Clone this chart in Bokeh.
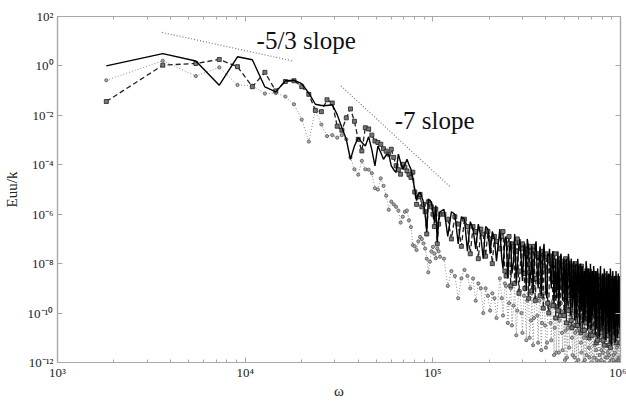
from bokeh.plotting import figure
from bokeh.models import LogAxis, FixedTicker, CustomJSTickFormatter, Label, Range1d
from bokeh.embed import file_html
from bokeh.resources import INLINE

# ---------------- data ----------------
fundamental = 1820.0  # spacing of the spectral lines (omega of harmonic 1)

harmonic_low = [1, 2, 3, 4, 5, 6, 7, 8, 9, 10, 11, 12, 13, 14, 15, 16, 17, 18, 19, 20,
                21, 22, 23, 24, 25, 26, 27, 28, 29, 30, 31, 32, 33, 34, 35, 36, 37, 38, 39, 40,
                41, 42, 43, 44, 45, 46, 47, 48, 49, 50, 51, 52, 53, 54, 55, 56, 57, 58, 59, 60]
harmonic_mid = [63, 66, 69, 72, 75, 78, 81, 84, 87, 90, 93, 96, 99, 102, 105, 108, 111, 114, 117, 120]
harmonic_high = [125, 130, 135, 140, 145, 150, 155, 160, 165, 170, 175, 180, 185, 190, 195, 200,
                 205, 210, 215, 220, 225, 230, 235, 240, 245, 250, 255, 260, 265, 270, 275, 280,
                 285, 290, 295, 300, 305, 310, 315, 320, 325, 330, 335, 340, 345, 350, 355, 360,
                 365, 370, 375, 380, 385, 390, 395, 400, 405, 410, 415, 420, 425, 430, 435, 440,
                 445, 450, 455, 460, 465, 470, 475, 480, 485, 490, 495, 500, 505, 510, 515, 520,
                 525, 530, 535, 540, 545, 550]
harmonic_high2 = [128, 133, 138, 143, 148, 153, 158, 163, 168, 173, 178, 183, 188, 193, 198, 203,
                  208, 213, 218, 223, 228, 233, 238, 243, 248, 253, 258, 263, 268, 273, 278, 283,
                  288, 293, 298, 303, 308, 313, 318, 323, 328, 333, 338, 343, 348, 353, 358, 363,
                  368, 373, 378, 383, 388, 393, 398, 403, 408, 413, 418, 423, 428, 433, 438, 443,
                  448, 453, 458, 463, 468, 473, 478, 483, 488, 493, 498, 503, 508, 513, 518, 523,
                  528, 533, 538, 543, 548]

# log10(Euu/k) of the solid series
solid_low = [0.0, 0.5, 0.2, -0.78, 0.37, 0.25, -0.85, -1.05, -0.6, -0.58,
             -0.72, -1.1, -1.55, -1.6, -1.6, -1.57, -1.97, -2.5, -2.97, -3.78,
             -3.24, -2.9, -3.1, -3.24, -2.87, -3.4, -4.04, -3.24, -3.5, -3.78,
             -3.6, -3.57, -4.04, -4.2, -4.31, -3.57, -3.9, -4.18, -4.0, -3.78,
             -4.0, -4.18, -4.6, -4.98, -5.45, -5.2, -5.11, -5.3, -5.51, -6.0,
             -6.72, -5.38, -5.45, -5.51, -5.9, -6.3, -5.65, -7.12, -6.2, -5.9]
solid_mid = [-5.8, -6.9, -5.9, -6.0, -7.2, -6.1, -6.2, -7.5, -6.3, -6.6,
             -7.4, -6.4, -6.9, -7.8, -6.5, -6.6, -7.6, -6.7, -7.0, -7.9]
solid_high = [-6.6, -8.2, -6.9, -7.6, -8.4, -6.8, -8.1, -7.0, -8.7, -7.2, -7.0, -8.9, -7.3, -8.2, -7.1, -9.0,
              -7.3, -8.5, -7.2, -9.2, -7.6, -7.4, -9.0, -7.5, -8.6, -9.4, -7.5, -8.8, -7.6, -9.5, -7.8, -8.4,
              -9.7, -7.6, -9.0, -7.8, -9.8, -7.9, -8.6, -10.2, -7.8, -9.4, -8.0, -9.9, -8.1, -8.8, -10.3, -7.9,
              -9.6, -8.2, -10.4, -8.0, -9.2, -10.1, -8.1, -9.8, -8.3, -10.6, -8.2, -9.4, -10.8, -8.1, -9.9, -8.4,
              -10.5, -8.2, -9.6, -11.0, -8.3, -10.2, -8.4, -10.9, -8.2, -9.7, -10.6, -8.3, -10.3, -8.5, -11.2, -8.3,
              -9.9, -10.8, -8.4, -10.4, -8.5, -10.9]
solid_high2 = [-7.8, -7.0, -8.6, -7.1, -7.9, -8.8, -7.2, -8.0, -7.3, -9.1,
               -7.4, -8.3, -9.2, -7.3, -8.4, -7.6, -9.3, -7.5, -8.2, -9.4,
               -7.7, -8.5, -7.6, -9.6, -7.8, -8.7, -9.8, -7.7, -8.9, -7.9,
               -10.0, -7.8, -9.1, -8.0, -10.1, -8.1, -9.0, -10.3, -8.0, -9.3,
               -8.2, -10.5, -8.1, -9.2, -10.4, -8.3, -9.5, -8.2, -10.7, -8.4,
               -9.4, -10.6, -8.3, -9.7, -8.5, -10.9, -8.4, -9.6, -8.6, -11.0,
               -8.5, -9.8, -10.7, -8.6, -9.9, -8.4, -11.1, -8.7, -9.5, -10.8,
               -8.6, -10.1, -8.5, -11.3, -8.7, -9.7, -10.9, -8.6, -10.0, -8.8,
               -11.0, -8.7, -9.8, -10.6, -8.6]

# log10(Euu/k) of the dashed series (square markers)
dashed_low = [-1.44, 0.03, 0.10, 0.26, -0.03, -0.84, -0.26, -1.01, -0.63, -0.6,
              -0.84, -1.15, -1.8, -1.85, -1.37, -1.5, -2.44, -2.6, -2.1, -1.74,
              -2.24, -2.97, -3.44, -2.5, -2.55, -2.8, -3.04, -3.1, -3.17, -3.35,
              -3.45, -3.57, -3.37, -3.7, -4.04, -4.2, -4.38, -3.98, -4.1, -4.25,
              -4.4, -4.51, -4.3, -5.1, -5.6, -5.3, -5.2, -5.7, -5.6, -5.9,
              -6.8, -5.5, -5.6, -5.7, -6.0, -6.5, -5.8, -7.2, -6.4, -6.0]
dashed_mid = [-6.0, -6.2, -7.0, -6.1, -6.4, -7.3, -6.2, -6.5, -7.6, -6.5,
              -6.7, -7.8, -6.6, -6.8, -7.7, -6.7, -7.0, -8.0, -6.9, -7.1]
dashed_high = [-7.4, -6.7, -8.5, -6.9, -7.2, -8.8, -7.0, -8.3, -7.2, -9.0, -7.4, -7.3, -9.1, -7.3, -8.6, -7.6,
               -9.3, -7.5, -8.1, -7.6, -9.6, -7.7, -8.0, -9.7, -7.6, -8.9, -9.9, -7.8, -8.5, -7.9, -10.1, -7.8,
               -8.3, -9.9, -8.0, -10.3, -8.1, -9.1, -8.0, -8.7, -10.5, -8.2, -9.5, -8.1, -10.7, -8.3, -8.6, -10.4,
               -8.4, -9.7, -8.3, -10.9, -8.5, -8.8, -10.6, -8.4, -9.9, -8.6, -11.1, -8.5, -9.0, -10.8, -8.6, -9.6,
               -8.7, -11.3, -8.5, -9.3, -10.9, -8.7, -10.1, -8.6, -11.4, -8.8, -9.4, -10.7, -8.7, -9.9, -8.9, -11.2,
               -8.6, -9.6, -10.9, -8.8, -10.2, -8.7]
dashed_high2 = [-6.9, -8.3, -7.2, -8.9, -7.3, -7.5, -9.2, -7.4, -8.4, -7.6,
                -9.4, -7.5, -8.0, -9.5, -7.7, -8.7, -7.8, -9.8, -7.7, -8.3,
                -10.0, -7.9, -8.6, -8.0, -10.2, -7.9, -8.8, -10.1, -8.1, -9.0,
                -8.2, -10.4, -8.1, -9.3, -8.3, -10.6, -8.2, -8.9, -10.5, -8.4,
                -9.4, -8.3, -10.8, -8.5, -9.0, -10.7, -8.4, -9.8, -8.6, -11.0,
                -8.5, -9.2, -10.9, -8.7, -9.6, -8.6, -11.2, -8.8, -9.5, -10.8,
                -8.7, -9.9, -8.9, -11.1, -8.8, -9.3, -10.9, -8.7, -10.0, -8.9,
                -11.3, -8.8, -9.7, -10.8, -9.0, -10.2, -8.9, -11.0, -8.8, -9.8,
                -10.6, -9.0, -10.4, -8.9, -11.2]

# log10(Euu/k) of the dotted series (circle markers)
dotted_low = [-0.58, 0.21, -0.41, -0.06, -0.77, -0.8, -1.12, -1.1, -1.24, -1.55,
              -2.17, -3.06, -1.77, -2.37, -2.84, -2.8, -2.9, -2.8, -2.97, -3.7,
              -4.18, -4.4, -3.84, -4.18, -4.2, -4.34, -4.95, -5.0, -4.55, -4.85,
              -5.25, -5.82, -5.49, -5.6, -5.7, -5.85, -6.34, -6.1, -5.9, -5.85,
              -6.25, -6.52, -7.25, -7.3, -7.45, -7.1, -6.92, -7.0, -7.18, -7.39,
              -7.8, -8.35, -7.92, -7.5, -7.32, -7.6, -7.78, -7.39, -7.5, -7.72]
dotted_mid = [-7.8, -8.9, -8.3, -8.5, -9.4, -8.6, -8.25, -8.5, -9.0, -8.6,
              -9.5, -8.8, -9.0, -10.0, -9.0, -9.3, -9.9, -9.2, -9.4, -10.2]
dotted_high = [-8.6, -10.1, -8.9, -9.6, -10.5, -8.8, -9.9, -9.1, -10.8, -9.0, -9.5, -11.0, -9.2, -10.2, -9.4, -11.2,
               -9.3, -10.4, -9.2, -11.4, -9.6, -9.8, -11.1, -9.5, -10.6, -11.6, -9.7, -10.3, -9.6, -11.5, -9.9, -10.7,
               -11.8, -9.8, -10.5, -10.0, -11.7, -9.9, -10.8, -12.0, -10.1, -10.6, -9.9, -11.6, -10.2, -11.0, -11.9, -10.0,
               -10.9, -10.3, -11.8, -10.1, -10.7, -12.0, -10.2, -11.3, -10.4, -11.9, -10.2, -10.8, -11.7, -10.3, -11.5, -10.5,
               -12.0, -10.4, -11.1, -11.8, -10.3, -11.6, -10.6, -12.0, -10.4, -11.2, -11.9, -10.5, -11.7, -10.6, -12.0, -10.4,
               -11.4, -11.9, -10.6, -11.8, -10.5, -11.9]
dotted_high2 = [-9.4, -8.8, -10.4, -9.0, -9.7, -10.9, -9.1, -10.0, -9.3, -11.1,
                -9.2, -10.3, -11.3, -9.4, -10.1, -9.5, -11.5, -9.4, -10.5, -11.2,
                -9.7, -10.4, -9.6, -11.7, -9.8, -10.2, -11.6, -9.9, -10.8, -10.0,
                -11.9, -9.9, -10.6, -11.4, -10.1, -11.0, -10.0, -11.8, -10.2, -10.7,
                -11.9, -10.1, -11.2, -10.3, -12.0, -10.2, -10.9, -11.7, -10.4, -11.4,
                -10.3, -12.0, -10.5, -10.8, -11.8, -10.4, -11.5, -10.6, -12.0, -10.3,
                -11.0, -11.9, -10.5, -11.6, -10.7, -12.0, -10.5, -11.3, -11.8, -10.6,
                -11.7, -10.4, -12.0, -10.7, -11.1, -11.9, -10.6, -11.6, -10.8, -12.0,
                -10.5, -11.3, -11.9, -10.7, -11.8]

# reference slope lines
slope53_omega = [3600, 18000]
slope53_value = [22.8, 1.57]
slope7_omega = [32400, 124000]
slope7_value = [0.155, 1.26e-5]

x_major = [1e3, 1e4, 1e5, 1e6]
x_minor = [k * 10 ** d for d in (3, 4, 5) for k in range(2, 10)]
y_major = [1e-12, 1e-10, 1e-8, 1e-6, 1e-4, 1e-2, 1e0, 1e2]

harmonic_all = harmonic_low + harmonic_mid + harmonic_high + harmonic_high2
solid_all = solid_low + solid_mid + solid_high + solid_high2
dashed_all = dashed_low + dashed_mid + dashed_high + dashed_high2
dotted_all = dotted_low + dotted_mid + dotted_high + dotted_high2
assert len(harmonic_all) == len(solid_all) == len(dashed_all) == len(dotted_all)

order = sorted(range(len(harmonic_all)), key=lambda i: harmonic_all[i])
omega = [fundamental * harmonic_all[i] for i in order]
solid = [10 ** solid_all[i] for i in order]
dashed = [10 ** dashed_all[i] for i in order]
dotted = [10 ** dotted_all[i] for i in order]

# ---------------- figure ----------------
FONT = "Liberation Serif, Times New Roman, serif"
AX = "#a8a8a8"

p = figure(width=626, height=401, x_axis_type="log", y_axis_type="log",
           x_range=Range1d(1e3, 1e6), y_range=Range1d(1e-12, 1e2),
           output_backend="svg", toolbar_location=None,
           min_border_left=54, min_border_right=6, min_border_top=16, min_border_bottom=36)
p.xgrid.visible = False
p.ygrid.visible = False
p.outline_line_color = AX
p.outline_line_width = 1.2

sup_code = """
const sup = {'-':'\u207b','0':'\u2070','1':'\u00b9','2':'\u00b2','3':'\u00b3','4':'\u2074',
             '5':'\u2075','6':'\u2076','7':'\u2077','8':'\u2078','9':'\u2079'};
const e = Math.round(Math.log10(tick));
return '10' + String(e).split('').map(c => sup[c]).join('');
"""
xt = FixedTicker(ticks=x_major, minor_ticks=x_minor)
yt = FixedTicker(ticks=y_major, minor_ticks=[])

def style_axis(ax):
    ax.axis_line_color = AX
    ax.axis_line_width = 1.2
    ax.major_tick_line_color = AX
    ax.minor_tick_line_color = AX
    ax.major_tick_in = 5
    ax.major_tick_out = 0
    ax.minor_tick_in = 3
    ax.minor_tick_out = 0
    ax.major_label_text_font = FONT
    ax.major_label_text_font_size = "13px"
    ax.major_label_text_color = "#222222"
    ax.axis_label_text_font = FONT
    ax.axis_label_text_font_style = "normal"
    ax.axis_label_text_color = "#222222"
    ax.axis_label_text_font_size = "15px"

xa = p.xaxis[0]
xa.ticker = xt
xa.formatter = CustomJSTickFormatter(code=sup_code)
style_axis(xa)
xa.major_label_standoff = 2
xa.axis_label = "\u03c9"
xa.axis_label_standoff = 0

ya = p.yaxis[0]
ya.ticker = yt
ya.formatter = CustomJSTickFormatter(code=sup_code)
style_axis(ya)
ya.major_label_standoff = 4
ya.axis_label = "Euu/k"
ya.axis_label_standoff = 5

blank = "return '';"
top = LogAxis(ticker=xt, formatter=CustomJSTickFormatter(code=blank))
style_axis(top)
top.major_label_standoff = 0
p.add_layout(top, "above")
right = LogAxis(ticker=yt, formatter=CustomJSTickFormatter(code=blank))
style_axis(right)
right.major_label_standoff = 0
p.add_layout(right, "right")

# series
p.line(omega, dotted, line_color="#8c8c8c", line_dash="1 2", line_width=1)
p.scatter(omega, dotted, marker="circle", size=3.2, line_color="#555555",
          fill_color="#aaaaaa", line_width=0.8)
p.line(omega, dashed, line_color="#222222", line_dash="5 3", line_width=1.3)
p.scatter(omega, dashed, marker="square", size=4, line_color="#222222",
          fill_color="#777777", line_width=0.8)
p.line(omega, solid, line_color="#000000", line_width=1.4)

# reference slopes
p.line(slope53_omega, slope53_value, line_color="#777777", line_dash="1 2", line_width=1.2)
p.line(slope7_omega, slope7_value, line_color="#777777", line_dash="1 2", line_width=1.2)

p.add_layout(Label(x=11500, y=10.9, text="-5/3 slope", text_font=FONT,
                   text_font_size="25px", text_baseline="middle", text_color="#111111"))
p.add_layout(Label(x=62700, y=6.2e-3, text="-7 slope", text_font=FONT,
                   text_font_size="25px", text_baseline="middle", text_color="#111111"))

open("out.html", "w").write(file_html(p, INLINE))
